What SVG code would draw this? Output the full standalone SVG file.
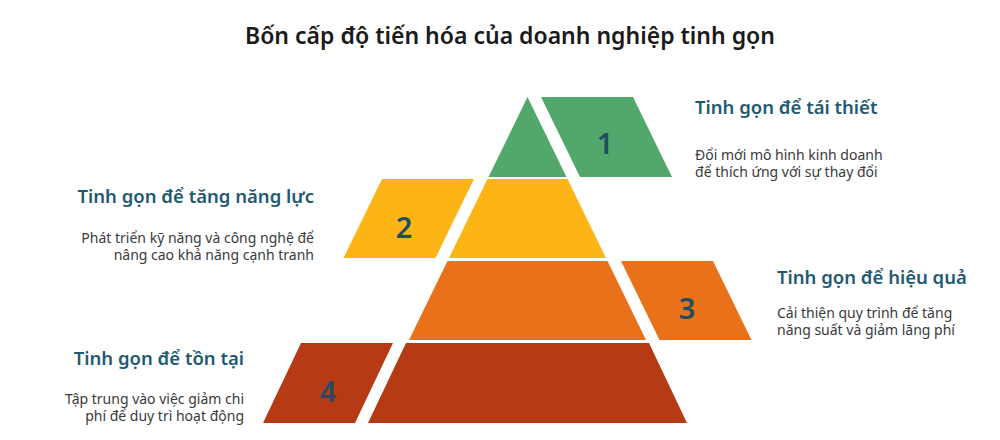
<svg xmlns="http://www.w3.org/2000/svg" width="1000" height="440" viewBox="0 0 1000 440">
<style>
.title{font-family:"Noto Sans","Liberation Sans",sans-serif;font-size:23px;font-weight:600;fill:#1a1a1a}
.head{font-family:"Noto Sans","Liberation Sans",sans-serif;font-size:18.5px;font-weight:600;fill:#1e5a72}
.desc{font-family:"Noto Sans","Liberation Sans",sans-serif;font-size:14px;fill:#3a3a3a}
.num{font-family:"Noto Sans","Liberation Sans",sans-serif;font-size:29px;font-weight:600;fill:#1d4f5f;text-anchor:middle}
.g{fill:#52a86c}.y{fill:#fdb515}.o{fill:#e8711a}.r{fill:#b63a14}
</style>
<rect width="1000" height="440" fill="#ffffff"/>
<text class="title" x="510" y="44" text-anchor="middle">Bốn cấp độ tiến hóa của doanh nghiệp tinh gọn</text>
<g id="connectors"></g>
<g id="level1">
<polygon class="g" points="527.5,97 566.5,177 488.5,177"/>
<polygon class="g" points="541,97 633,97 672,177 580,177"/>
<text class="num" x="605" y="154">1</text>
<text class="head" x="695" y="114">Tinh gọn để tái thiết</text>
<text class="desc" x="695" y="160">Đổi mới mô hình kinh doanh</text>
<text class="desc" x="695" y="177">để thích ứng với sự thay đổi</text>
</g>
<g id="level2">
<polygon class="y" points="487.5,179 567.5,179 606,258 449,258"/>
<polygon class="y" points="382,179 474,179 435.5,258 343.5,258"/>
<text class="num" x="404" y="238">2</text>
<text class="head" x="314" y="203" text-anchor="end">Tinh gọn để tăng năng lực</text>
<text class="desc" x="314" y="243" text-anchor="end">Phát triển kỹ năng và công nghệ để</text>
<text class="desc" x="314" y="260" text-anchor="end">nâng cao khả năng cạnh tranh</text>
</g>
<g id="level3">
<polygon class="o" points="447.5,261 607.5,261 646,340 409,340"/>
<polygon class="o" points="621,261 713,261 751.5,340 659.5,340"/>
<text class="num" x="687" y="319">3</text>
<text class="head" x="777" y="284">Tinh gọn để hiệu quả</text>
<text class="desc" x="777" y="318">Cải thiện quy trình để tăng</text>
<text class="desc" x="777" y="335">năng suất và giảm lãng phí</text>
</g>
<g id="level4">
<polygon class="r" points="406,343 649,343 687,423 368,423"/>
<polygon class="r" points="301,343 393,343 355,423 263,423"/>
<text class="num" x="328" y="402">4</text>
<text class="head" x="244" y="365" text-anchor="end">Tinh gọn để tồn tại</text>
<text class="desc" x="244" y="404" text-anchor="end">Tập trung vào việc giảm chi</text>
<text class="desc" x="244" y="421" text-anchor="end">phí để duy trì hoạt động</text>
</g>
</svg>
